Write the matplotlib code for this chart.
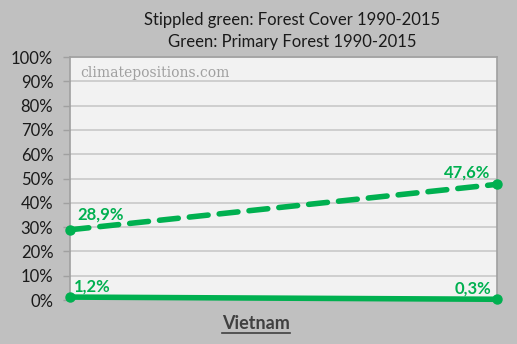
import matplotlib
matplotlib.use("Agg")
import matplotlib.pyplot as plt
from matplotlib.lines import Line2D

# data
years = [1990, 2015]
forest_cover = [28.9, 47.6]
primary_forest = [1.2, 0.3]
country = "Vietnam"
title_lines = ["Stippled green: Forest Cover 1990-2015",
               "Green: Primary Forest 1990-2015"]

green = "#00b050"
plt.rcParams["font.family"] = ["Lato", "DejaVu Sans"]

fig = plt.figure(figsize=(5.17, 3.44), dpi=100, facecolor="#c0c0c0")
ax = fig.add_axes([0.1354, 0.1279, 0.8259, 0.7064], facecolor="#f2f2f2")

ax.plot(years, forest_cover, color=green, lw=4.0, dashes=(3.4, 2.0),
        dash_capstyle="round", clip_on=False, zorder=3)
ax.plot(years, forest_cover, "o", color=green, ms=6.5, clip_on=False, zorder=4)
ax.plot(years, primary_forest, color=green, lw=4.0, solid_capstyle="round",
        clip_on=False, zorder=3)
ax.plot(years, primary_forest, "o", color=green, ms=6.5, clip_on=False, zorder=4)

# data labels
lab = dict(color=green, fontsize=12, fontweight="bold")
ax.annotate(f"{forest_cover[0]:.1f}%".replace(".", ","), (years[0], forest_cover[0]),
            xytext=(5, 5), textcoords="offset points", ha="left", va="bottom", **lab)
ax.annotate(f"{primary_forest[0]:.1f}%".replace(".", ","), (years[0], primary_forest[0]),
            xytext=(3, 2), textcoords="offset points", ha="left", va="bottom", **lab)
ax.annotate(f"{forest_cover[1]:.1f}%".replace(".", ","), (years[1], forest_cover[1]),
            xytext=(-5, 3), textcoords="offset points", ha="right", va="bottom", **lab)
ax.annotate(f"{primary_forest[1]:.1f}%".replace(".", ","), (years[1], primary_forest[1]),
            xytext=(-4, 2), textcoords="offset points", ha="right", va="bottom", **lab)

ax.set_xlim(years[0], years[1])
ax.set_ylim(0, 100)
ax.set_yticks(range(0, 101, 10))
ax.set_yticklabels([f"{v}%" for v in range(0, 101, 10)], fontsize=12, color="#1a1a1a")
ax.set_xticks([])
ax.tick_params(axis="y", length=5, width=1, color="#a0a0a0", pad=7)
ax.grid(axis="y", color="#c8c8c8", lw=1.2)
ax.set_axisbelow(True)
for s in ["left", "right", "top"]:
    ax.spines[s].set_color("#a0a0a0")
    ax.spines[s].set_linewidth(1.2)
ax.spines["bottom"].set_visible(False)

ax.text(0.025, 0.965, "climatepositions.com", transform=ax.transAxes,
        family="DejaVu Serif", fontsize=10, color="#a0a0a0", va="top")

fig.text(0.565, 0.942, title_lines[0], ha="center", va="center", fontsize=12, color="#1a1a1a")
fig.text(0.565, 0.877, title_lines[1], ha="center", va="center", fontsize=12, color="#1a1a1a")

xl = fig.text(0.495, 0.06, country, ha="center", va="center", fontsize=13,
              fontweight="bold", color="#404040")
fig.canvas.draw()
bb = xl.get_window_extent().transformed(fig.transFigure.inverted())
fig.add_artist(Line2D([bb.x0, bb.x1], [bb.y0 - 0.003, bb.y0 - 0.003],
                      transform=fig.transFigure, color="#404040", lw=1.2))

fig.savefig("out.png", dpi=100, facecolor=fig.get_facecolor())
